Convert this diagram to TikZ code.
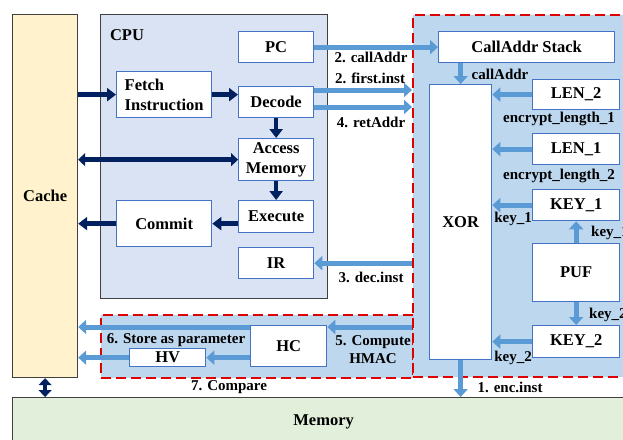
\documentclass[tikz,border=0pt]{standalone}
\usepackage{fontspec}
\setmainfont{Liberation Serif}
\usetikzlibrary{arrows.meta}

\definecolor{cpufill}{HTML}{DAE3F3}
\definecolor{cachefill}{HTML}{FFF2CC}
\definecolor{memfill}{HTML}{E2EFDA}
\definecolor{regionfill}{HTML}{BDD7EE}
\definecolor{boxline}{HTML}{4472C4}
\definecolor{arrowblue}{HTML}{5B9BD5}
\definecolor{navy}{HTML}{002060}
\definecolor{dashred}{HTML}{E00000}
\definecolor{frame}{HTML}{404040}

\tikzset{
  unit/.style={draw=boxline, line width=1.3pt, fill=white, inner sep=0pt, anchor=north west,
    font=\fontsize{16.5}{20}\selectfont\bfseries},
  block/.style={draw=frame, line width=1.2pt, inner sep=0pt, anchor=north west,
    font=\fontsize{16.5}{20}\selectfont\bfseries},
  lbl/.style={inner sep=0pt, font=\fontsize{15}{18}\selectfont\bfseries},
  navyarrow/.style={draw=navy, line width=4.5pt, -{Triangle[length=9pt,width=13pt]}},
  navyboth/.style={draw=navy, line width=4.5pt, {Triangle[length=7pt,width=13pt]}-{Triangle[length=7pt,width=13pt]}},
  bluearrow/.style={draw=arrowblue, line width=5pt, -{Triangle[length=8pt,width=14pt]}},
  region/.style={draw=dashred, line width=1.5pt, dash pattern=on 10pt off 5pt, fill=regionfill,
    anchor=north west, inner sep=0pt},
}

\begin{document}
\begin{tikzpicture}[x=1pt, y=-1pt]
  \useasboundingbox (0,0) rectangle (623,439);

  % outer blocks
  \node[block, fill=cachefill, minimum width=65, minimum height=363] (cache) at (12,14) {Cache};
  \node[block, fill=cpufill, minimum width=227, minimum height=284] (cpu) at (100,14) {};
  \node[region, minimum width=312, minimum height=63] (hmacbox) at (100,314) {};
  \node[region, minimum width=230, minimum height=362] (enclave) at (412,14) {};
  \node[block, fill=memfill, minimum width=622, minimum height=48] (memory) at (12,397) {Memory};
  \node[lbl, font=\fontsize{16.5}{20}\selectfont\bfseries] (cpulbl) at (127,35) {CPU};

  % CPU pipeline
  \node[unit, minimum width=75, minimum height=31] (pc) at (238,31) {PC};
  \node[unit, minimum width=95, minimum height=46, align=left] (fetch) at (116,71) {Fetch\\Instruction};
  \node[unit, minimum width=75, minimum height=31] (decode) at (238,86) {Decode};
  \node[unit, minimum width=75, minimum height=42, align=center] (access) at (238,138) {Access\\Memory};
  \node[unit, minimum width=75, minimum height=32] (execute) at (238,200) {Execute};
  \node[unit, minimum width=95, minimum height=46] (commit) at (116,200) {Commit};
  \node[unit, minimum width=75, minimum height=31] (ir) at (238,247) {IR};

  % secure part
  \node[unit, minimum width=176, minimum height=31] (stack) at (438,31) {CallAddr Stack};
  \node[unit, minimum width=62, minimum height=275] (xor) at (429,84) {XOR};
  \node[unit, minimum width=87, minimum height=30] (len2) at (532,79) {LEN\_2};
  \node[unit, minimum width=87, minimum height=31] (len1) at (532,133) {LEN\_1};
  \node[unit, minimum width=87, minimum height=31] (key1) at (532,189) {KEY\_1};
  \node[unit, minimum width=87, minimum height=58] (puf) at (532,243) {PUF};
  \node[unit, minimum width=87, minimum height=32] (key2) at (532,325) {KEY\_2};

  % HMAC part
  \node[unit, minimum width=76, minimum height=41] (hc) at (250,325) {HC};
  \node[unit, minimum width=76, minimum height=18] (hv) at (129,348) {HV};

  \coordinate (firstin) at (412,90);
  \coordinate (retin) at (412,107);
  \coordinate (hmacin) at (412,327);

  % navy arrows
  \draw[navyarrow] (cache.east |- fetch) -- (fetch.west);
  \draw[navyarrow] (fetch.east) -- (fetch.east -| decode.west);
  \draw[navyarrow] (decode.south) -- (access.north);
  \draw[navyboth] (access.west) -- (access.west -| cache.east);
  \draw[navyarrow] (access.south) -- (execute.north);
  \draw[navyarrow] (execute.west |- commit) -- (commit.east);
  \draw[navyarrow] (commit.west) -- (commit.west -| cache.east);
  \draw[navyboth] (cache.south) -- (cache.south |- memory.north);

  % blue arrows
  \draw[bluearrow] (pc.east) -- (stack.west);
  \draw[bluearrow] (xor.north |- stack.south) -- (xor.north);
  \draw[bluearrow] (decode.east |- firstin) -- (firstin);
  \draw[bluearrow] (decode.east |- retin) -- (retin);
  \draw[bluearrow] (enclave.west |- ir) -- (ir.east);
  \draw[bluearrow] (len2.west) -- (len2.west -| xor.east);
  \draw[bluearrow] (len1.west) -- (len1.west -| xor.east);
  \draw[bluearrow] (key1.west) -- (key1.west -| xor.east);
  \draw[bluearrow] (key2.west) -- (key2.west -| xor.east);
  \draw[bluearrow] (puf.north) -- (key1.south);
  \draw[bluearrow] (puf.south) -- (key2.north);
  \draw[bluearrow] (xor.south) -- (xor.south |- memory.north);
  \draw[bluearrow] (hmacin) -- (hmacin -| hc.east);
  \draw[bluearrow] (hc.west |- hmacin) -- (cache.east |- hmacin);
  \draw[bluearrow] (hc.west |- hv) -- (hv.east);
  \draw[bluearrow] (hv.west) -- (hv.west -| cache.east);

  % labels
  \node[lbl] (lcall) at (371,57) {2. callAddr};
  \node[lbl] (lfirst) at (370,78) {2. first.inst};
  \node[lbl] (lret) at (371,122) {4. retAddr};
  \node[lbl] (ldec) at (371,277) {3. dec.inst};
  \node[lbl] (lstack) at (500,74) {callAddr};
  \node[lbl] (llen1) at (559,119) {encrypt\_length\_1};
  \node[lbl] (llen2) at (559,176) {encrypt\_length\_2};
  \node[lbl] (lkeya) at (513,219) {key\_1};
  \node[lbl, anchor=west] (lkeyb) at (591,233) {key\_1};
  \node[lbl, anchor=west] (lkeyc) at (589,315) {key\_2};
  \node[lbl] (lkeyd) at (513,358) {key\_2};
  \node[lbl] (lenc) at (510,387) {1. enc.inst};
  \node[lbl, align=center] (lhmac) at (373,350) {5. Compute\\HMAC};
  \node[lbl] (lstore) at (176,340) {6. Store as parameter};
  \node[lbl] (lcmp) at (229,387) {7. Compare};
\end{tikzpicture}
\end{document}
